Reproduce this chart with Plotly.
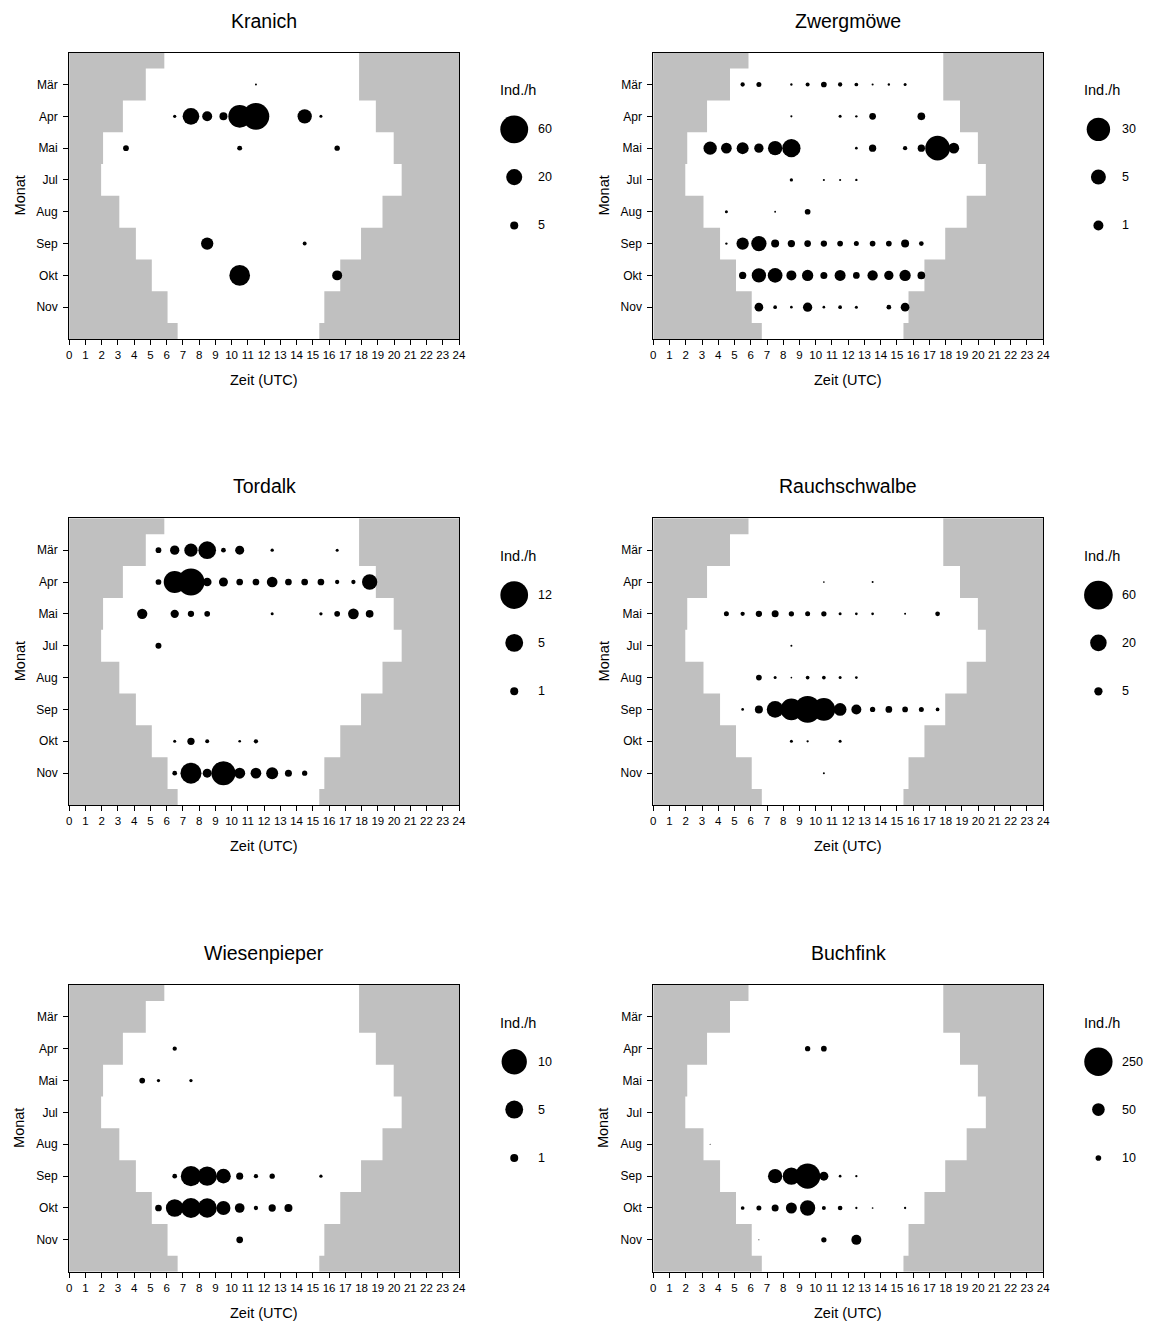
import plotly.graph_objects as go

# ---------------------------------------------------------------------------
# Data
# ---------------------------------------------------------------------------
MONTHS = ["Mär", "Apr", "Mai", "Jul", "Aug", "Sep", "Okt", "Nov"]
HOUR_TICKS = list(range(0, 25))

# night shading: band edges (month-row units) and dawn / dusk times (UTC)
BAND_EDGES = [0, 0.5, 1.5, 2.5, 3.5, 4.5, 5.5, 6.5, 7.5, 8.5, 9]
DAWN_UTC = [5.86, 4.72, 3.31, 2.09, 1.97, 3.09, 4.11, 5.09, 6.06, 6.68]
DUSK_UTC = [17.85, 17.85, 18.88, 19.98, 20.47, 19.29, 17.97, 16.69, 15.71, 15.4]

# Kranich
kranich_month = ["Mär", "Apr", "Apr", "Apr", "Apr", "Apr", "Apr", "Apr", "Apr",
                 "Mai", "Mai", "Mai", "Sep", "Sep", "Okt", "Okt"]
kranich_hour = [11.5, 6.5, 7.5, 8.5, 9.5, 10.5, 11.5, 14.5, 15.5,
                3.5, 10.5, 16.5, 8.5, 14.5, 10.5, 16.5]
kranich_rate = [0.3, 0.8, 21.5, 7.7, 4.9, 39.8, 55, 15.8, 0.7,
                2.5, 1.9, 2.2, 11.7, 1.2, 33, 7.7]
kranich_legend = [60, 20, 5]

# Zwergmöwe
zwergmoewe_month = (["Mär"] * 10 + ["Apr"] * 5 + ["Mai"] * 12 + ["Jul"] * 4 + ["Aug"] * 3
                    + ["Sep"] * 13 + ["Okt"] * 12 + ["Nov"] * 9)
zwergmoewe_hour = [5.5, 6.5, 8.5, 9.5, 10.5, 11.5, 12.5, 13.5, 14.5, 15.5,
                   8.5, 11.5, 12.5, 13.5, 16.5,
                   3.5, 4.5, 5.5, 6.5, 7.5, 8.5, 12.5, 13.5, 15.5, 16.5, 17.5, 18.5,
                   8.5, 10.5, 11.5, 12.5,
                   4.5, 7.5, 9.5,
                   4.5, 5.5, 6.5, 7.5, 8.5, 9.5, 10.5, 11.5, 12.5, 13.5, 14.5, 15.5, 16.5,
                   5.5, 6.5, 7.5, 8.5, 9.5, 10.5, 11.5, 12.5, 13.5, 14.5, 15.5, 16.5,
                   6.5, 7.5, 8.5, 9.5, 10.5, 11.5, 12.5, 14.5, 15.5]
zwergmoewe_rate = [0.034, 0.063, 0.003, 0.026, 0.106, 0.034, 0.019, 0.002, 0.003, 0.008,
                   0.002, 0.008, 0.003, 0.202, 0.352,
                   3.13, 1.31, 2.07, 0.748, 4.18, 11.2, 0.005, 0.284, 0.034, 0.284, 37.2, 1.31,
                   0.012, 0.002, 0.002, 0.003,
                   0.008, 0.001, 0.106,
                   0.003, 2.29, 5.48, 0.41, 0.284, 0.202, 0.158, 0.106, 0.063, 0.106, 0.106, 0.41, 0.049,
                   0.284, 4.18, 4.67, 1.0, 1.63, 0.24, 1.46, 0.202, 1.13, 0.748, 1.63, 0.352,
                   0.573, 0.019, 0.005, 0.748, 0.005, 0.019, 0.008, 0.049, 0.573]
zwergmoewe_legend = [30, 5, 1]

# Tordalk
tordalk_month = (["Mär"] * 8 + ["Apr"] * 14 + ["Mai"] * 9 + ["Jul"]
                 + ["Okt"] * 5 + ["Nov"] * 9)
tordalk_hour = [5.5, 6.5, 7.5, 8.5, 9.5, 10.5, 12.5, 16.5,
                5.5, 6.5, 7.5, 8.5, 9.5, 10.5, 11.5, 12.5, 13.5, 14.5, 15.5, 16.5, 17.5, 18.5,
                4.5, 6.5, 7.5, 8.5, 12.5, 15.5, 16.5, 17.5, 18.5,
                5.5,
                6.5, 7.5, 8.5, 10.5, 11.5,
                6.5, 7.5, 8.5, 9.5, 10.5, 11.5, 12.5, 13.5, 14.5]
tordalk_rate = [0.51, 1.35, 2.76, 4.9, 0.35, 1.27, 0.17, 0.14,
                0.51, 7.56, 11.4, 1.18, 1.27, 0.7, 0.7, 1.79, 0.7, 0.7, 0.7, 0.29, 0.29, 3.66,
                1.66, 1.08, 0.62, 0.51, 0.14, 0.17, 0.51, 1.79, 0.93,
                0.56,
                0.14, 0.83, 0.25, 0.11, 0.29,
                0.35, 6.9, 1.27, 9.0, 1.89, 1.79, 2.25, 0.77, 0.44]
tordalk_legend = [12, 5, 1]

# Rauchschwalbe
rauchschwalbe_month = (["Apr"] * 2 + ["Mai"] * 12 + ["Jul"] + ["Aug"] * 7
                       + ["Sep"] * 13 + ["Okt"] * 3 + ["Nov"])
rauchschwalbe_hour = [10.5, 13.5,
                      4.5, 5.5, 6.5, 7.5, 8.5, 9.5, 10.5, 11.5, 12.5, 13.5, 15.5, 17.5,
                      8.5,
                      6.5, 7.5, 8.5, 9.5, 10.5, 11.5, 12.5,
                      5.5, 6.5, 7.5, 8.5, 9.5, 10.5, 11.5, 12.5, 13.5, 14.5, 15.5, 16.5, 17.5,
                      8.5, 9.5, 11.5,
                      10.5]
rauchschwalbe_rate = [0.21, 0.29,
                      1.83, 1.35, 2.9, 3.58, 2.05, 1.83, 2.05, 0.66, 0.53, 0.53, 0.29, 1.61,
                      0.29,
                      2.37, 0.66, 0.21, 1.0, 1.0, 0.66, 0.53,
                      0.53, 4.67, 20.4, 34.4, 52, 37.6, 11.8, 7.3, 2.05, 3.28, 2.37, 1.83, 1.0,
                      0.66, 0.39, 0.66,
                      0.29]
rauchschwalbe_legend = [60, 20, 5]

# Wiesenpieper
wiesenpieper_month = ["Apr"] + ["Mai"] * 3 + ["Sep"] * 8 + ["Okt"] * 9 + ["Nov"]
wiesenpieper_hour = [6.5,
                     4.5, 5.5, 7.5,
                     6.5, 7.5, 8.5, 9.5, 10.5, 11.5, 12.5, 15.5,
                     5.5, 6.5, 7.5, 8.5, 9.5, 10.5, 11.5, 12.5, 13.5,
                     10.5]
wiesenpieper_rate = [0.29,
                     0.51, 0.17, 0.17,
                     0.35, 6.44, 5.82, 3.38, 0.77, 0.29, 0.44, 0.17,
                     0.7, 4.9, 6.25, 5.82, 3.06, 1.47, 0.29, 0.83, 1.0,
                     0.7]
wiesenpieper_legend = [10, 5, 1]

# Buchfink
buchfink_month = ["Apr"] * 2 + ["Aug"] + ["Sep"] * 6 + ["Okt"] * 10 + ["Nov"] * 3
buchfink_hour = [9.5, 10.5,
                 3.5,
                 7.5, 8.5, 9.5, 10.5, 11.5, 12.5,
                 5.5, 6.5, 7.5, 8.5, 9.5, 10.5, 11.5, 12.5, 13.5, 15.5,
                 6.5, 10.5, 12.5]
buchfink_rate = [8.77, 10.1,
                 0.31,
                 63.8, 93.4, 200, 25.3, 2.28, 1.65,
                 4.27, 7.8, 15.3, 37.8, 73, 5.0, 6.9, 1.65, 0.9, 1.65,
                 0.31, 8.77, 31.2]
buchfink_legend = [250, 50, 10]

# ---------------------------------------------------------------------------
# Styling / layout
# ---------------------------------------------------------------------------
W, H = 1150, 1322
FONT = "Liberation Sans, Arial, sans-serif"
NIGHT = "#c0c0c0"

# bubble diameter (px) = k * rate ** p
PANELS = [
    ("Kranich", kranich_month, kranich_hour, kranich_rate, kranich_legend, 3.6, 0.5),
    ("Zwergmöwe", zwergmoewe_month, zwergmoewe_hour, zwergmoewe_rate, zwergmoewe_legend, 10.0, 0.25),
    ("Tordalk", tordalk_month, tordalk_hour, tordalk_rate, tordalk_legend, 8.0, 0.5),
    ("Rauchschwalbe", rauchschwalbe_month, rauchschwalbe_hour, rauchschwalbe_rate, rauchschwalbe_legend, 3.7, 0.5),
    ("Wiesenpieper", wiesenpieper_month, wiesenpieper_hour, wiesenpieper_rate, wiesenpieper_legend, 8.0, 0.5),
    ("Buchfink", buchfink_month, buchfink_hour, buchfink_rate, buchfink_legend, 1.79, 0.5),
]

COL_X = [(66.7, 460.0), (656.0, 1049.3)]                  # plot left/right (px)
ROW_Y = [(52.7, 339.0), (518.3, 805.0), (985.0, 1271.7)]  # plot top/bottom (px)
LEG_W = 100                                               # legend strip width (px)

# legend positions, in hour / month-row units continuing the panel's scales
LEG_X = 27.4
LEG_TITLE_X = 26.4
LEG_LABEL_X = 28.75
LEG_TITLE_Y = 1.18
LEG_ROWS_Y = [2.41, 3.91, 5.43]


def size_of(v, k, p):
    return k * v ** p


fig = go.Figure()
annotations = []

for i, (name, months, hours, rates, legend_vals, k, p) in enumerate(PANELS):
    n = i + 1
    m = n + len(PANELS)
    r, c = divmod(i, 2)
    xs = "x" if n == 1 else f"x{n}"
    ys = "y" if n == 1 else f"y{n}"
    xkey = "xaxis" if n == 1 else f"xaxis{n}"
    ykey = "yaxis" if n == 1 else f"yaxis{n}"
    lxs, lys = f"x{m}", f"y{m}"
    left, right = COL_X[c]
    top, bottom = ROW_Y[r]
    px_per_h = (right - left) / 24
    ydom = [1 - bottom / H, 1 - top / H]

    fig.update_layout(**{
        xkey: dict(domain=[left / W, right / W], anchor=ys, range=[0, 24],
                   tickmode="array", tickvals=HOUR_TICKS, ticktext=[str(h) for h in HOUR_TICKS],
                   ticks="outside", ticklen=5, tickwidth=1, tickcolor="#000",
                   showline=True, linecolor="#000", linewidth=1, mirror=True,
                   showgrid=False, zeroline=False,
                   tickfont=dict(family=FONT, size=11.5, color="#000")),
        ykey: dict(domain=ydom, anchor=xs, range=[9, 0],
                   tickmode="array", tickvals=list(range(1, len(MONTHS) + 1)), ticktext=MONTHS,
                   ticks="outside", ticklen=5, tickwidth=1, tickcolor="#000",
                   ticklabelstandoff=3,
                   showline=True, linecolor="#000", linewidth=1, mirror=True,
                   showgrid=False, zeroline=False,
                   tickfont=dict(family=FONT, size=12, color="#000")),
        # hidden axes for the size legend, sharing the panel's scales
        f"xaxis{m}": dict(domain=[right / W, min(1.0, (right + LEG_W) / W)], anchor=lys,
                          range=[24, 24 + LEG_W / px_per_h], visible=False, fixedrange=True),
        f"yaxis{m}": dict(domain=ydom, anchor=lxs, range=[9, 0], visible=False, fixedrange=True),
    })

    # night (grey) areas, built as step polygons from dawn/dusk times
    lx, ly, rx, ry = [0], [BAND_EDGES[0]], [24], [BAND_EDGES[0]]
    for j in range(len(DAWN_UTC)):
        lx += [DAWN_UTC[j], DAWN_UTC[j]]
        ly += [BAND_EDGES[j], BAND_EDGES[j + 1]]
        rx += [DUSK_UTC[j], DUSK_UTC[j]]
        ry += [BAND_EDGES[j], BAND_EDGES[j + 1]]
    lx += [0]
    ly += [BAND_EDGES[-1]]
    rx += [24]
    ry += [BAND_EDGES[-1]]
    for px_, py_ in ((lx, ly), (rx, ry)):
        fig.add_trace(go.Scatter(x=px_, y=py_, xaxis=xs, yaxis=ys, mode="lines",
                                 fill="toself", fillcolor=NIGHT,
                                 line=dict(width=0, color=NIGHT),
                                 hoverinfo="skip", showlegend=False))

    # migration-intensity bubbles
    yy = [MONTHS.index(mo) + 1 for mo in months]
    fig.add_trace(go.Scatter(x=hours, y=yy, xaxis=xs, yaxis=ys, mode="markers",
                             marker=dict(size=[size_of(v, k, p) for v in rates],
                                         color="#000", opacity=1, line=dict(width=0)),
                             text=[f"{v} Ind./h" for v in rates],
                             showlegend=False))

    # size legend next to the panel
    fig.add_trace(go.Scatter(x=[LEG_X] * len(legend_vals), y=LEG_ROWS_Y,
                             xaxis=lxs, yaxis=lys, mode="markers", cliponaxis=False,
                             marker=dict(size=[size_of(v, k, p) for v in legend_vals],
                                         color="#000", opacity=1, line=dict(width=0)),
                             hoverinfo="skip", showlegend=False))
    annotations.append(dict(xref=lxs, yref=lys, x=LEG_TITLE_X, y=LEG_TITLE_Y,
                            text="Ind./h", showarrow=False, xanchor="left", yanchor="middle",
                            font=dict(family=FONT, size=14.5, color="#000")))
    for v, yv in zip(legend_vals, LEG_ROWS_Y):
        annotations.append(dict(xref=lxs, yref=lys, x=LEG_LABEL_X, y=yv,
                                text=str(v), showarrow=False, xanchor="left", yanchor="middle",
                                font=dict(family=FONT, size=12.5, color="#000")))

    # panel title and axis titles
    annotations.append(dict(xref="paper", yref="paper", x=(left + right) / 2 / W,
                            y=1 - top / H, yshift=32, text=name, showarrow=False,
                            xanchor="center", yanchor="middle",
                            font=dict(family=FONT, size=19.5, color="#000")))
    annotations.append(dict(xref="paper", yref="paper", x=(left + right) / 2 / W,
                            y=1 - bottom / H, yshift=-41, text="Zeit (UTC)", showarrow=False,
                            xanchor="center", yanchor="middle",
                            font=dict(family=FONT, size=14.5, color="#000")))
    annotations.append(dict(xref="paper", yref="paper", x=(left - 50) / W,
                            y=1 - (top + bottom) / 2 / H, text="Monat", showarrow=False,
                            textangle=-90, xanchor="center", yanchor="middle",
                            font=dict(family=FONT, size=14.5, color="#000")))

fig.update_layout(width=W, height=H, autosize=False,
                  margin=dict(l=0, r=0, t=0, b=0),
                  paper_bgcolor="#fff", plot_bgcolor="#fff",
                  annotations=annotations, showlegend=False)

fig.write_html("out.html")
